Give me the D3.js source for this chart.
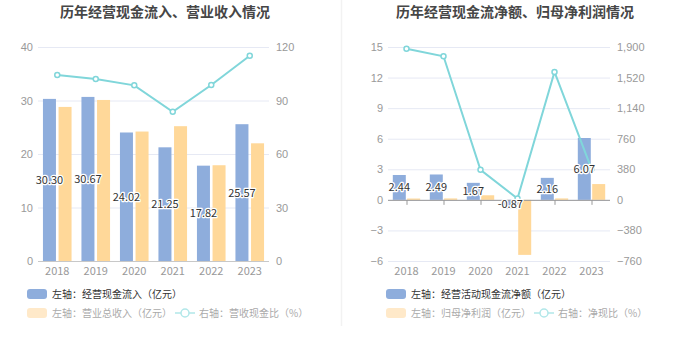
<!DOCTYPE html>
<html><head><meta charset="utf-8">
<script src="https://cdn.jsdelivr.net/npm/d3@7"></script>
<style>
body{margin:0;background:#fff;}
svg{display:block;font-family:"Noto Sans CJK SC","Noto Sans",sans-serif;}
</style></head>
<body><svg id="c" width="680" height="349"></svg>
<script>
const years = ["2018","2019","2020","2021","2022","2023"];
// left chart
const cashInflow = [30.30, 30.67, 24.02, 21.25, 17.82, 25.57];
const revenue = [28.8, 30.1, 24.2, 25.2, 17.9, 22.0];
const cashRevRatio = [104.3, 102.1, 98.5, 83.7, 98.7, 115.1];
const leftTicksL = [0, 10, 20, 30, 40];
const leftTicksR = [0, 30, 60, 90, 120];
// right chart
const netCashFlow = [2.44, 2.49, 1.67, -0.87, 2.16, 6.07];
const netProfit = [0.13, 0.14, 0.45, -5.4, 0.14, 1.55];
const netCashRatio = [1877, 1785, 373, 16, 1590, 385];
const rightTicksL = [-6, -3, 0, 3, 6, 9, 12, 15];
const rightTicksR = [-760, -380, 0, 380, 760, 1140, 1520, 1900];

const C_BLUE = "#8eaddc", C_ORANGE = "#ffd899", C_LINE = "#80d6da";
const svg = d3.select("#c");

// divider
svg.append("line").attr("x1", 341.5).attr("x2", 341.5).attr("y1", 0).attr("y2", 326)
  .attr("stroke", "#f2f2f2").attr("stroke-width", 1.5);

function chart(o) {
  const g = svg.append("g");
  g.append("text").attr("x", o.titleX).attr("y", 17).attr("text-anchor", "middle")
    .attr("font-size", 14).attr("font-weight", "bold").attr("fill", "#464646").text(o.title);
  const x = d3.scaleBand().domain(years).range([o.x0, o.x1]);
  const yL = d3.scaleLinear().domain(o.domL).range([261, 47]);
  const yR = d3.scaleLinear().domain(o.domR).range([261, 47]);
  // grid
  g.append("g").selectAll("line").data(o.ticksL).join("line")
    .attr("x1", o.x0).attr("x2", o.x1).attr("y1", d => yL(d) + 0.5).attr("y2", d => yL(d) + 0.5)
    .attr("stroke", "#e6e9f4");
  // left axis
  const axL = g.append("g").attr("transform", `translate(${o.x0 - 5},0)`)
    .call(d3.axisLeft(yL).tickValues(o.ticksL).tickSize(0).tickPadding(0).tickFormat(d3.format(",")));
  axL.select(".domain").remove();
  axL.selectAll("text").attr("fill", "#999").attr("font-size", 11).attr("font-family", "inherit");
  const axR = g.append("g").attr("transform", `translate(${o.x1 + 7},0)`)
    .call(d3.axisRight(yR).tickValues(o.ticksR).tickSize(0).tickPadding(0).tickFormat(d3.format(",")));
  axR.select(".domain").remove();
  axR.selectAll("text").attr("fill", "#999").attr("font-size", 11).attr("font-family", "inherit");
  // bars
  const bw = x.bandwidth();
  const barW = 13;
  const grp = 2 * barW + o.gap;
  const off = (bw - grp) / 2;
  const y0 = yL(0);
  g.append("g").selectAll("rect").data(o.s1).join("rect")
    .attr("x", (d, i) => x(years[i]) + off).attr("width", barW)
    .attr("y", d => Math.min(yL(d), y0)).attr("height", d => Math.abs(yL(d) - y0))
    .attr("fill", C_BLUE);
  g.append("g").selectAll("rect").data(o.s2).join("rect")
    .attr("x", (d, i) => x(years[i]) + off + barW + o.gap).attr("width", barW)
    .attr("y", d => Math.min(yL(d), y0)).attr("height", d => Math.abs(yL(d) - y0))
    .attr("fill", C_ORANGE);
  // x axis
  g.append("line").attr("x1", o.x0).attr("x2", o.x1).attr("y1", y0 + 0.5).attr("y2", y0 + 0.5)
    .attr("stroke", o.axisColor);
  if (o.ticks) {
    g.append("g").selectAll("line").data(years).join("line")
      .attr("x1", d => x(d) + bw / 2 + 0.5).attr("x2", d => x(d) + bw / 2 + 0.5)
      .attr("y1", y0).attr("y2", y0 + 5).attr("stroke", o.axisColor);
  }
  g.append("g").selectAll("text").data(years).join("text")
    .attr("x", d => x(d) + bw / 2).attr("y", 275).attr("text-anchor", "middle")
    .attr("font-size", 11).attr("fill", "#999").text(d => d);
  // line
  const line = d3.line().x((d, i) => x(years[i]) + bw / 2).y(d => yR(d));
  g.append("path").datum(o.s3).attr("d", line).attr("fill", "none")
    .attr("stroke", C_LINE).attr("stroke-width", 2);
  g.append("g").selectAll("circle").data(o.s3).join("circle")
    .attr("cx", (d, i) => x(years[i]) + bw / 2).attr("cy", d => yR(d)).attr("r", 2.5)
    .attr("fill", "#fff").attr("stroke", C_LINE).attr("stroke-width", 1.5);
  // labels
  g.append("g").selectAll("text").data(o.s1).join("text")
    .attr("x", (d, i) => x(years[i]) + off + barW / 2)
    .attr("y", d => (yL(d) + y0) / 2 + 4).attr("text-anchor", "middle")
    .attr("font-size", 11).attr("fill", "#333")
    .attr("stroke", "#fff").attr("stroke-width", 2.5).attr("paint-order", "stroke")
    .attr("stroke-linejoin", "round")
    .text(d => d.toFixed(2));
  // legend
  const L = g.append("g");
  L.append("rect").attr("x", o.lx).attr("y", 289).attr("width", 20).attr("height", 10).attr("rx", 3)
    .attr("fill", C_BLUE);
  L.append("text").attr("x", o.lx + 25).attr("y", 298).attr("font-size", 10).attr("fill", "#333").text(o.leg1);
  L.append("rect").attr("x", o.lx).attr("y", 308).attr("width", 20).attr("height", 10).attr("rx", 3)
    .attr("fill", "#ffe9c9");
  L.append("text").attr("x", o.lx + 25).attr("y", 317).attr("font-size", 10).attr("fill", "#aaa").text(o.leg2);
  L.append("line").attr("x1", o.lx3).attr("x2", o.lx3 + 20).attr("y1", 313).attr("y2", 313)
    .attr("stroke", "#b1e7e9").attr("stroke-width", 1.5);
  L.append("circle").attr("cx", o.lx3 + 10).attr("cy", 313).attr("r", 4).attr("fill", "#fff")
    .attr("stroke", "#b1e7e9").attr("stroke-width", 1.5);
  L.append("text").attr("x", o.lx3 + 24).attr("y", 317).attr("font-size", 10).attr("fill", "#aaa").text(o.leg3);
}

chart({
  title: "历年经营现金流入、营业收入情况", titleX: 165,
  x0: 38, x1: 269, domL: [0, 40], domR: [0, 120], ticksL: leftTicksL, ticksR: leftTicksR,
  s1: cashInflow, s2: revenue, s3: cashRevRatio, gap: 2.6, axisColor: "#c8c8c8", ticks: false,
  lx: 27, lx3: 175,
  leg1: "左轴：经营现金流入（亿元）", leg2: "左轴：营业总收入（亿元）", leg3: "右轴：营收现金比（%）"
});
chart({
  title: "历年经营现金流净额、归母净利润情况", titleX: 515,
  x0: 388, x1: 610, domL: [-6, 15], domR: [-760, 1900], ticksL: rightTicksL, ticksR: rightTicksR,
  s1: netCashFlow, s2: netProfit, s3: netCashRatio, gap: 1.4, axisColor: "#999", ticks: true,
  lx: 386, lx3: 534,
  leg1: "左轴：经营活动现金流净额（亿元）", leg2: "左轴：归母净利润（亿元）", leg3: "右轴：净现比（%）"
});
</script></body></html>
